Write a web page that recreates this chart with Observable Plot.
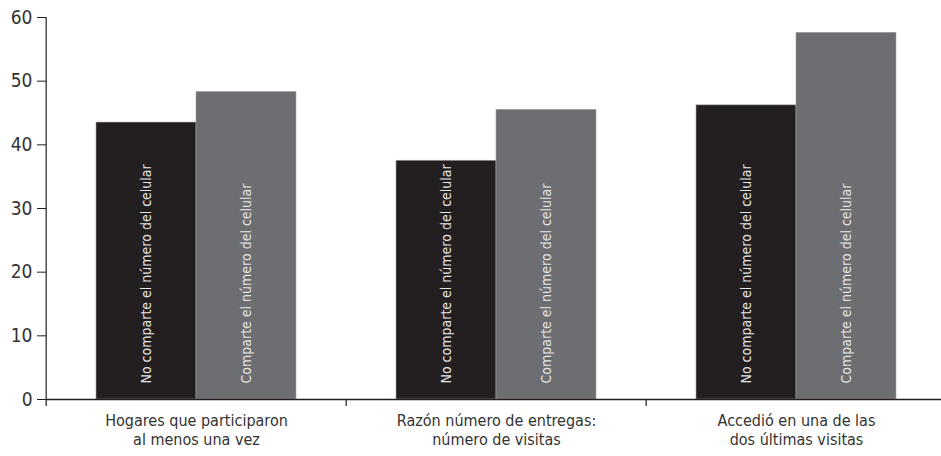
<!DOCTYPE html>
<html>
<head>
<meta charset="utf-8">
<script src="https://cdn.jsdelivr.net/npm/d3@7"></script>
<script src="https://cdn.jsdelivr.net/npm/@observablehq/plot@0.6"></script>
<style>
  html, body { margin: 0; padding: 0; background: #fff; }
</style>
</head>
<body>
<div id="chart"></div>
<script>
const groups = [
  "Hogares que participaron\nal menos una vez",
  "Razón número de entregas:\nnúmero de visitas",
  "Accedió en una de las\ndos últimas visitas"
];
const series = ["No comparte el número del celular", "Comparte el número del celular"];
const noComparte = [43.5, 37.5, 46.2];
const comparte = [48.3, 45.5, 57.6];
const yTicks = [0, 10, 20, 30, 40, 50, 60];

const data = groups.flatMap((g, i) => [
  {group: g, series: series[0], value: noComparte[i]},
  {group: g, series: series[1], value: comparte[i]}
]);

const W = 941, H = 456, mL = 45, mR = -6;
const halfBand = (W - mL - mR) / groups.length / 2;

const chart = Plot.plot({
  width: W,
  height: H,
  marginTop: 17,
  marginBottom: 57,
  marginLeft: mL,
  marginRight: mR,
  style: {
    fontFamily: "'Liberation Sans Narrow', 'DejaVu Sans Condensed', sans-serif",
    fontSize: "19px",
    color: "#231f20",
    background: "#fff"
  },
  fx: {domain: groups, padding: 0, label: null},
  x: {domain: series, paddingInner: 0, paddingOuter: 0.5, axis: null},
  y: {domain: [0, 60], label: null},
  color: {domain: series, range: ["#231f20", "#6d6e71"]},
  marks: [
    Plot.barY(data, {fx: "group", x: "series", y: "value", fill: "series", stroke: "#a0a0a0", strokeWidth: 0.6}),
    Plot.text(data, {
      fx: "group", x: "series", y: 0, text: "series",
      rotate: -90, textAnchor: "start", dy: -16,
      fill: "#e4e4e4", fontSize: 14
    }),
    Plot.axisY({ticks: yTicks, tickSize: 9, tickPadding: 5, label: null, fontSize: 19, fill: "#333"}),
    Plot.ruleX([0], {x: null, facetAnchor: "left", dx: -halfBand, stroke: "#231f20", strokeWidth: 1.2}),
    Plot.ruleY([0], {stroke: "#231f20", strokeWidth: 1.6}),
    Plot.axisFx({anchor: "bottom", tickSize: 0, tickPadding: 13, label: null, fontSize: 16, lineHeight: 1.2, fill: "#333"}),
    Plot.axisFx({anchor: "bottom", tickSize: 7, text: null, label: null, dx: -halfBand, strokeWidth: 1.2})
  ]
});

document.getElementById("chart").appendChild(chart);
</script>
</body>
</html>
